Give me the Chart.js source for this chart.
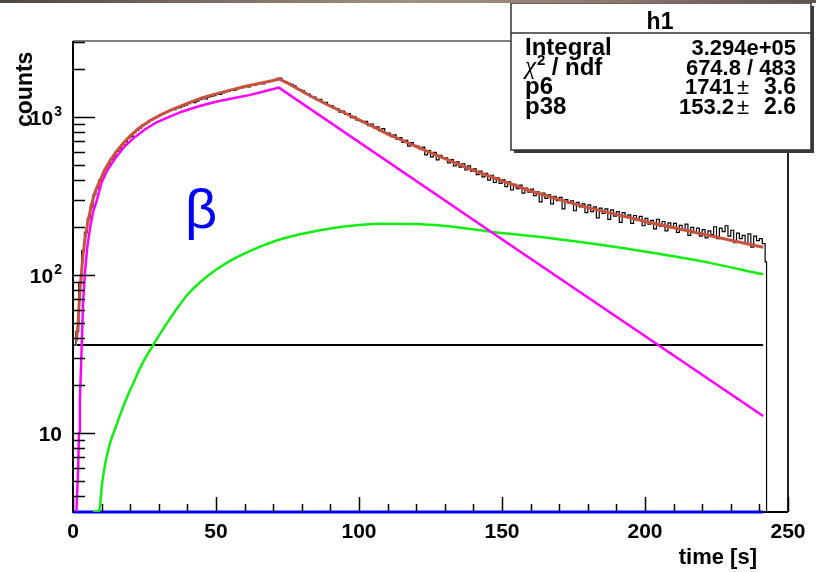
<!DOCTYPE html>
<html>
<head>
<meta charset="utf-8">
<script src="https://cdn.jsdelivr.net/npm/chart.js@4.4.1/dist/chart.umd.min.js"></script>
<style>
  body { margin: 0; background: #fff; }
  #wrap { position: relative; width: 816px; height: 572px; }
  #topbar {
    position: absolute; left: 0; top: 0; width: 816px; height: 3px;
    background: linear-gradient(to right, #4e4640, #7a6c62, #a09086, #8a7a70, #5e524c);
  }
</style>
</head>
<body>
<div id="wrap">
  <canvas id="chart" width="816" height="572"></canvas>
  <div id="topbar"></div>
</div>
<script>
// axis range (log y)
const X_MIN = 0, X_MAX = 250;
const Y_MIN = 3.1623, Y_MAX = 3027;

const xMajorTicks = [0, 50, 100, 150, 200, 250];
const yMajorTicks = [10, 100, 1000];
const yTickLabels = [["10", ""], ["10", "2"], ["10", "3"]];

// histogram "h1": 1 s bins starting at t = 0, last bin is a half bin ending at 242.5
const histBinWidth = 1;
const histLastEdge = 242.5;
const histV = [
  36, 44, 88, 142, 186, 228, 270, 322, 355, 398,
  425, 470, 494, 540, 560, 606, 628, 672, 695, 738,
  752, 796, 822, 850, 888, 906, 930, 958, 982, 1006,
  1028, 1045, 1068, 1084, 1108, 1112, 1142, 1148, 1172, 1190,
  1216, 1240, 1232, 1262, 1290, 1308, 1300, 1334, 1352, 1366,
  1395, 1388, 1420, 1442, 1458, 1476, 1472, 1508, 1520, 1532,
  1565, 1548, 1590, 1584, 1618, 1632, 1620, 1660, 1672, 1690,
  1712, 1758, 1766, 1702, 1668, 1632, 1610, 1572, 1520, 1490,
  1462, 1410, 1398, 1342, 1335, 1288, 1295, 1236, 1240, 1185,
  1182, 1132, 1130, 1072, 1090, 1040, 1050, 992, 1002, 955,
  948, 925, 938, 880, 902, 852, 866, 818, 845, 790,
  792, 752, 770, 722, 740, 690, 712, 655, 688, 662,
  655, 628, 645, 575, 612, 560, 598, 535, 572, 548,
  552, 512, 538, 490, 520, 482, 506, 462, 490, 455,
  470, 432, 455, 418, 440, 398, 428, 385, 412, 380,
  402, 362, 388, 345, 375, 352, 370, 330, 355, 335,
  350, 318, 336, 290, 330, 305, 322, 282, 315, 296,
  310, 262, 300, 285, 295, 255, 288, 270, 282, 248,
  278, 252, 270, 230, 265, 245, 262, 225, 258, 236,
  252, 215, 248, 232, 240, 212, 238, 222, 235, 205,
  228, 210, 222, 196, 225, 204, 218, 190, 214, 200,
  212, 186, 206, 192, 210, 178, 200, 188, 198, 176,
  194, 172, 190, 180, 202, 170, 198, 188, 205, 176,
  192, 160, 184, 170, 178, 158, 182, 150, 176, 165,
  170, 158, 121
];

// total fit (red)
const fitT = [1.2, 1.8, 2.4, 3, 3.5, 4.2, 5.2, 6.5, 7.7, 9.4, 11, 13, 15, 17.5, 20, 23, 27, 31, 35, 40,
  45, 50, 55, 60, 65, 70, 72, 75, 80, 85, 90, 95, 100, 105, 110, 115, 120, 125, 130, 140,
  150, 160, 170, 180, 190, 200, 210, 220, 230, 241.3];
const fitV = [38, 50, 80, 105, 134, 170, 216, 280, 335, 395, 460, 530, 600, 680, 760, 850, 950, 1040, 1120, 1220,
  1320, 1400, 1480, 1560, 1630, 1700, 1741, 1640, 1455, 1300, 1170, 1060, 960, 870, 780, 715, 650, 595, 545, 460,
  395, 340, 300, 267, 242, 218, 199, 182, 166, 150];

// beta component (magenta)
const betaT = [1.2, 1.8, 2.1, 2.4, 3.1, 3.5, 4.2, 5, 6, 7, 8.4, 10, 12, 15, 18, 21, 25, 29, 33, 38,
  44, 50, 56, 62, 67, 72, 155, 241.3];
const betaV = [3.2, 6, 10, 16, 38, 65, 105, 150, 200, 250, 300, 385, 460, 555, 650, 730, 830, 920, 990, 1080,
  1170, 1250, 1315, 1380, 1455, 1535, 146, 12.8];

// daughter component (green)
const daughterT = [7, 9, 9.4, 10, 11, 12, 13, 14.7, 17, 19, 21, 24, 28, 32, 36, 40, 44.4, 50, 56, 62,
  67, 72, 79.4, 90, 100, 108, 120, 135, 146, 167, 185, 202, 220, 241.3];
const daughterV = [3.16, 3.2, 3.4, 4.5, 6, 7.4, 8.7, 10.6, 13.8, 17, 20.5, 27, 36, 47, 60, 75, 90, 108, 126, 142,
  155, 167, 181, 197, 207, 211, 210, 200, 188, 171, 155, 139, 122, 101];

// constant background (black) and third component (blue, below the axis floor)
const bkgT = [1.4, 241.3];
const bkgV = [36, 36];
const thirdT = [0, 241.3];
const thirdV = [Y_MIN, Y_MIN];

const stats = [
  ["Integral", "3.294e+05"],
  ["chi2", "674.8 / 483"],
  ["p6", "1741", "3.6"],
  ["p38", "153.2", "2.6"],
];

function toPoints(xs, ys) {
  return xs.map((x, i) => ({ x: x, y: ys[i] }));
}

const histPoints = [{ x: 0, y: Y_MIN }]
  .concat(histV.map((v, i) => ({ x: i * histBinWidth, y: v })))
  .concat([
    { x: histLastEdge, y: histV[histV.length - 1] },
    { x: histLastEdge, y: Y_MIN },
    { x: X_MAX, y: Y_MIN },
  ]);

const FONT = '"Liberation Sans", Arial, Helvetica, sans-serif';

function drawPow(ctx, base, exp, xRight, yMid) {
  ctx.font = "bold 21px " + FONT;
  const wb = ctx.measureText(base).width;
  ctx.font = "bold 14px " + FONT;
  const we = exp ? ctx.measureText(exp).width + 1 : 0;
  ctx.textBaseline = "middle";
  ctx.textAlign = "left";
  ctx.font = "bold 21px " + FONT;
  ctx.fillText(base, xRight - we - wb, yMid + 2);
  if (exp) {
    ctx.font = "bold 14px " + FONT;
    ctx.fillText(exp, xRight - we + 1, yMid - 5);
  }
}

const rootFrame = {
  id: "rootFrame",
  beforeDatasetsDraw(chart) {
    const { ctx, chartArea: a } = chart;
    ctx.save();
    ctx.lineWidth = 1.5;
    ctx.strokeStyle = "#555";
    ctx.beginPath();
    ctx.moveTo(a.left, a.top);
    ctx.lineTo(a.right, a.top);
    ctx.stroke();
    ctx.lineWidth = 2;
    ctx.strokeStyle = "#222";
    ctx.beginPath();
    ctx.moveTo(a.right, a.top);
    ctx.lineTo(a.right, a.bottom);
    ctx.stroke();
    ctx.strokeStyle = "#000";
    ctx.beginPath();
    ctx.moveTo(a.left, a.top);
    ctx.lineTo(a.left, a.bottom);
    ctx.lineTo(a.right, a.bottom);
    ctx.stroke();
    ctx.restore();
  },
  afterDatasetsDraw(chart) {
    const { ctx, chartArea: a } = chart;
    const xs = chart.scales.x, ys = chart.scales.y;
    ctx.save();
    ctx.strokeStyle = "#000";
    ctx.lineWidth = 1.5;
    ctx.beginPath();
    // x ticks
    for (let v = X_MIN; v <= X_MAX; v += 10) {
      const px = Math.round(xs.getPixelForValue(v)) + 0.5;
      const len = v % 50 === 0 ? 15 : 8;
      ctx.moveTo(px, a.bottom);
      ctx.lineTo(px, a.bottom - len);
    }
    // y ticks
    for (let d = 1; d <= 1000; d *= 10) {
      for (let m = 1; m <= 9; m++) {
        const v = d * m;
        if (v < Y_MIN || v > Y_MAX) continue;
        const py = Math.round(ys.getPixelForValue(v)) + 0.5;
        const len = m === 1 ? 22 : 12;
        ctx.moveTo(a.left, py);
        ctx.lineTo(a.left + len, py);
      }
    }
    ctx.stroke();

    // tick labels
    ctx.fillStyle = "#000";
    ctx.font = "bold 21px " + FONT;
    ctx.textAlign = "center";
    ctx.textBaseline = "middle";
    xMajorTicks.forEach((v) => {
      ctx.fillText(String(v), xs.getPixelForValue(v), 532);
    });
    yMajorTicks.forEach((v, i) => {
      drawPow(ctx, yTickLabels[i][0], yTickLabels[i][1], 62, ys.getPixelForValue(v));
    });

    // axis titles
    ctx.font = "bold 22px " + FONT;
    ctx.textAlign = "right";
    ctx.textBaseline = "alphabetic";
    ctx.fillText("time [s]", 757, 564);
    ctx.save();
    ctx.translate(32, 127);
    ctx.rotate(-Math.PI / 2);
    ctx.textAlign = "left";
    ctx.font = "bold 23px " + FONT;
    ctx.fillText("counts", 0, 0);
    ctx.restore();

    // beta label
    ctx.fillStyle = "#0000ff";
    ctx.font = "56px " + FONT;
    ctx.textAlign = "center";
    ctx.fillText("\u03b2", 201, 228);

    // stats box
    const bx = 511, by = 3, bw = 300, bh = 147;
    ctx.fillStyle = "#3a3a3a";
    ctx.fillRect(bx + 3, by + 3, bw, bh);
    ctx.fillStyle = "#fff";
    ctx.fillRect(bx, by, bw, bh);
    ctx.strokeStyle = "#333";
    ctx.lineWidth = 1.5;
    ctx.strokeRect(bx, by, bw, bh);
    ctx.beginPath();
    ctx.moveTo(bx, 33);
    ctx.lineTo(bx + bw, 33);
    ctx.stroke();

    ctx.fillStyle = "#000";
    ctx.font = "bold 23px " + FONT;
    ctx.textAlign = "center";
    ctx.fillText("h1", 660, 29);

    const rowY = [55, 75, 94, 114];
    stats.forEach((row, i) => {
      const y = rowY[i];
      ctx.textAlign = "left";
      if (row[0] === "chi2") {
        ctx.font = 'italic 25px "Liberation Serif", "Times New Roman", serif';
        ctx.fillText("\u03c7", 525, y - 1);
        const wc = ctx.measureText("\u03c7").width;
        ctx.font = "bold 15px " + FONT;
        ctx.fillText("2", 525 + wc + 1, y - 10);
        ctx.font = "bold 24px " + FONT;
        ctx.fillText(" / ndf", 525 + wc + 9, y);
      } else {
        ctx.font = "bold 24px " + FONT;
        ctx.fillText(row[0], 525, y);
      }
      ctx.font = "bold 22px " + FONT;
      ctx.textAlign = "right";
      if (row.length === 2) {
        ctx.fillText(row[1], 796, y);
      } else {
        ctx.font = "bold 23px " + FONT;
        ctx.fillText(row[2], 796, y);
        ctx.font = "22px " + FONT;
        ctx.textAlign = "center";
        ctx.fillText("\u00b1", 743, y);
        ctx.font = "bold 22px " + FONT;
        ctx.textAlign = "right";
        ctx.fillText(row[1], 734, y);
      }
    });
    ctx.restore();
  },
};

const ctx = document.getElementById("chart");

new Chart(ctx, {
  type: "line",
  data: {
    datasets: [
      { label: "fit", data: toPoints(fitT, fitV), borderColor: "#c9523f", borderWidth: 3 },
      { label: "beta", data: toPoints(betaT, betaV), borderColor: "#ff00ff", borderWidth: 2.5 },
      {
        label: "daughter", data: toPoints(daughterT, daughterV), borderColor: "#11ee11", borderWidth: 2.5,
        cubicInterpolationMode: "monotone",
      },
      { label: "third", data: toPoints(thirdT, thirdV), borderColor: "#0000ff", borderWidth: 3, clip: false },
      { label: "background", data: toPoints(bkgT, bkgV), borderColor: "#000000", borderWidth: 2 },
      { label: "h1", data: histPoints, borderColor: "#000000", borderWidth: 1.2, stepped: "before" },
    ],
  },
  options: {
    responsive: false,
    animation: false,
    events: [],
    layout: { padding: { left: 73, top: 41, right: 28, bottom: 60 } },
    elements: { point: { radius: 0 }, line: { tension: 0, fill: false } },
    plugins: { legend: { display: false }, tooltip: { enabled: false } },
    scales: {
      x: { type: "linear", min: X_MIN, max: X_MAX, display: false },
      y: { type: "logarithmic", min: Y_MIN, max: Y_MAX, display: false },
    },
  },
  plugins: [rootFrame],
});
</script>
</body>
</html>
